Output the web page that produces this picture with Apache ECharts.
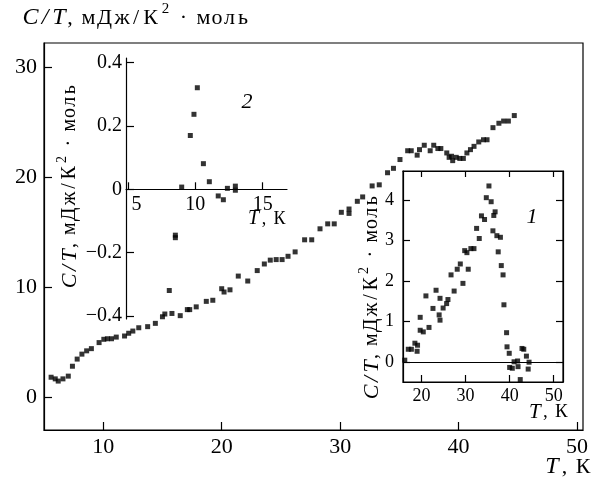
<!DOCTYPE html>
<html><head><meta charset="utf-8">
<script src="https://cdn.jsdelivr.net/npm/echarts@6/dist/echarts.min.js"></script>
<style>html,body{margin:0;padding:0;background:#fff}#c{width:605px;height:484px}</style>
</head><body><div id="c"></div>
<script>
// ---- data ----
const mainT = [5.6,5.95,6.2,6.6,7.05,7.4,7.8,8.2,8.6,9.0,9.65,10.05,10.35,10.7,11.1,11.8,12.15,12.5,13.0,13.75,14.4,15.0,15.2,15.8,16.5,17.1,17.3,17.85,18.7,19.25,20.0,20.2,20.7,21.4,22.2,23.0,23.6,24.1,24.6,25.1,25.6,26.2,27.0,27.6,28.3,28.95,29.5,30.1,30.75,30.75,31.45,31.9,32.7,33.3,34.0,34.5,35.05,35.7,36.0,36.5,36.7,37.1,37.6,37.9,38.25,38.5,39.0,39.2,39.4,39.5,39.8,40.1,40.4,40.7,41.0,41.3,41.7,42.1,42.4,42.9,43.4,43.8,44.2,44.7];
const mainC = [1.8,1.65,1.45,1.65,1.9,2.8,3.45,3.9,4.2,4.4,4.95,5.25,5.3,5.3,5.45,5.55,5.8,6.0,6.3,6.4,6.7,7.3,7.55,7.6,7.4,7.95,7.95,8.2,8.7,8.8,9.85,9.55,9.75,11.0,10.55,11.5,12.1,12.45,12.5,12.5,12.8,13.2,14.3,14.3,15.3,15.75,15.75,16.8,17.1,16.7,17.8,18.2,19.2,19.3,20.4,20.8,21.6,22.4,22.4,22.0,22.5,22.9,22.4,22.9,22.6,22.6,22.2,21.8,21.9,21.5,21.8,21.7,21.7,22.2,22.5,22.8,23.2,23.4,23.4,24.5,24.9,25.1,25.1,25.6];

const inset2T = [8.07,8.52,8.52,8.99,9.63,9.9,10.15,10.6,11.04,11.7,12.08,12.38,12.97,12.97];
const inset2C = [-0.32,-0.145,-0.153,0.007,0.17,0.237,0.321,0.081,0.024,-0.021,-0.033,0.003,0.01,-0.003];

const inset1T = [16.2,17.0,17.7,18.5,19.1,19.0,19.7,20.4,19.7,21.0,21.7,22.6,23.3,24.0,24.2,24.2,24.9,25.7,26.0,26.7,27.4,28.1,28.8,29.4,29.8,30.3,30.6,31.2,31.9,32.5,33.1,33.6,34.3,34.7,35.3,35.8,36.4,36.7,36.2,37.1,37.9,37.4,38.1,38.5,38.7,39.3,39.4,39.9,40.0,40.6,41.0,41.8,41.9,42.4,42.8,43.2,43.8,44.2,44.4];
const inset1C = [0.04,0.31,0.31,0.46,0.41,0.26,0.78,0.74,1.10,1.63,0.85,1.32,1.77,1.16,1.03,1.57,1.33,1.44,1.54,2.15,1.75,2.29,2.42,1.94,2.75,2.70,2.29,2.80,2.80,3.30,3.05,3.61,3.52,4.06,4.35,3.96,3.62,3.71,3.24,3.12,3.08,2.72,2.38,2.15,1.41,0.72,0.37,0.21,-0.14,-0.16,0.0,0.02,-0.12,-0.44,0.33,0.31,0.14,-0.18,-0.01];

const mainXTicks = [10,20,30,40,50];
const mainYTicks = [0,10,20,30];
const inset2XTicks = [5,10,15];
const inset2YTicks = [-0.4,-0.2,0,0.2,0.4];
const inset1XTicks = [20,30,40,50];
const inset1YTicks = [0,1,2,3,4];

// ---- text styling helpers ----
const SERIF = 'Liberation Serif';
const pairs = (xs, ys) => xs.map((x, i) => [x, ys[i]]);
const minus = v => String(v).replace('-', '\u2212');

// token: [text, style, box width] (widths at scale 1)
const cTokens = [['C','i',17],['/','i',12],['T','i',16],[',','r',6],[' ','r',8],
  ['м','r',15],['Д','r',17],['ж','r',18],['/','r',10],['К','r',19],['2','s',11],
  [' ','r',9],['·','r',7],[' ','r',9],['м','r',15],['о','r',12],['л','r',13],['ь','r',14]];
const tTokens = [['T','i',16],[',','r',9],[' ','r',4],['К','r',20]];

function richLabel(tokens, k) {
  const rich = {};
  let text = '';
  tokens.forEach((t, n) => {
    const key = 'k' + n;
    const base = t[1] === 'i' ? {fontStyle: 'italic', fontSize: Math.round(24 * k)}
      : t[1] === 's' ? {fontSize: Math.round(15 * k), padding: [0, 0, Math.round(18 * k), 0]}
      : {fontSize: Math.round(22 * k)};
    rich[key] = Object.assign({fontFamily: SERIF, color: '#000', width: t[2] * k, align: 'center'}, base);
    text += '{' + key + '|' + t[0] + '}';
  });
  return {text: text, rich: rich};
}

function axisCommon(min, max, ticks, opts) {
  const o = Object.assign({fs: 18, tickLen: 7, labels: true, margin: 6, fmt: null}, opts);
  const label = {show: o.labels, customValues: ticks, fontFamily: SERIF, fontSize: o.fs, color: '#000',
    margin: o.margin, formatter: o.fmt || (v => minus(v))};
  if (o.rich) label.rich = o.rich;
  const ax = {
    type: 'value', min: min, max: max, gridIndex: o.grid, position: o.position,
    splitLine: {show: false},
    axisLine: {show: true, onZero: false, lineStyle: {color: '#000', width: 1.2}},
    axisTick: {show: true, inside: true, length: o.tickLen, customValues: ticks, lineStyle: {color: '#000', width: 1.2}},
    axisLabel: label
  };
  if (o.offset) ax.offset = o.offset;
  return ax;
}

const G2 = {top: 58, height: 261, min: -0.41, max: 0.415};
const zeroOffset = -(G2.height * (0 - G2.min) / (G2.max - G2.min));

const chart = echarts.init(document.getElementById('c'));
chart.setOption({
  animation: false,
  backgroundColor: '#fff',
  textStyle: {fontFamily: SERIF, color: '#000'},
  grid: [
    {left: 44, top: 43, width: 539, height: 387, show: true, borderColor: '#000', borderWidth: 1.2},
    {left: 126, top: G2.top, width: 161, height: G2.height, show: false},
    {left: 403, top: 171, width: 160, height: 211, show: true, borderColor: '#000', borderWidth: 1.2}
  ],
  xAxis: [
    axisCommon(5, 50.5, mainXTicks, {grid: 0, position: 'bottom', fs: 22, tickLen: 8, margin: 6}),
    axisCommon(4.86, 16.8, inset2XTicks, {grid: 1, position: 'bottom', fs: 20, margin: 5, offset: zeroOffset,
      fmt: v => v === 5 ? '{p|5}' : String(v),
      rich: {p: {fontFamily: SERIF, fontSize: 20, color: '#000', padding: [0, 0, 0, 17]}}}),
    axisCommon(15.8, 52.1, inset1XTicks, {grid: 2, position: 'bottom', margin: 5}),
    axisCommon(15.8, 52.1, inset1XTicks, {grid: 2, position: 'top', labels: false, tickLen: 6})
  ],
  yAxis: [
    axisCommon(-3, 32.2, mainYTicks, {grid: 0, position: 'left', fs: 22, tickLen: 8, margin: 7}),
    axisCommon(G2.min, G2.max, inset2YTicks, {grid: 1, position: 'left', fs: 20, tickLen: 8, margin: 4}),
    axisCommon(-0.5, 4.72, inset1YTicks, {grid: 2, position: 'left', margin: 9}),
    axisCommon(-0.5, 4.72, inset1YTicks, {grid: 2, position: 'right', labels: false})
  ],
  series: [
    {type: 'scatter', xAxisIndex: 0, yAxisIndex: 0, symbol: 'rect', symbolSize: 5,
      itemStyle: {color: '#000'}, data: pairs(mainT, mainC), silent: true},
    {type: 'scatter', xAxisIndex: 1, yAxisIndex: 1, symbol: 'rect', symbolSize: 5,
      itemStyle: {color: '#000'}, data: pairs(inset2T, inset2C), silent: true},
    {type: 'scatter', xAxisIndex: 2, yAxisIndex: 2, symbol: 'rect', symbolSize: 5,
      itemStyle: {color: '#000'}, data: pairs(inset1T, inset1C), silent: true,
      markLine: {silent: true, symbol: 'none', label: {show: false}, animation: false,
        lineStyle: {color: '#000', type: 'solid', width: 1.2}, data: [{yAxis: 0}]}}
  ],
  graphic: [
    {type: 'text', x: 22, y: 18, style: Object.assign(richLabel(cTokens, 1), {align: 'left', verticalAlign: 'middle'})},
    {type: 'text', x: 593, y: 467, style: Object.assign(richLabel(tTokens, 1), {align: 'right', verticalAlign: 'middle'})},
    {type: 'text', x: 70, y: 186, rotation: Math.PI / 2, style: Object.assign(richLabel(cTokens, 0.9), {align: 'center', verticalAlign: 'middle'})},
    {type: 'text', x: 288, y: 219, style: Object.assign(richLabel(tTokens, 0.84), {align: 'right', verticalAlign: 'middle'})},
    {type: 'text', x: 372, y: 297, rotation: Math.PI / 2, style: Object.assign(richLabel(cTokens, 0.9), {align: 'center', verticalAlign: 'middle'})},
    {type: 'text', x: 570, y: 412, style: Object.assign(richLabel(tTokens, 0.86), {align: 'right', verticalAlign: 'middle'})},
    {type: 'text', x: 247, y: 102, style: {text: '2', fontFamily: SERIF, fontStyle: 'italic', fontSize: 22, fill: '#000', align: 'center', verticalAlign: 'middle'}},
    {type: 'text', x: 532, y: 217, style: {text: '1', fontFamily: SERIF, fontStyle: 'italic', fontSize: 22, fill: '#000', align: 'center', verticalAlign: 'middle'}}
  ]
});
</script>
</body></html>
